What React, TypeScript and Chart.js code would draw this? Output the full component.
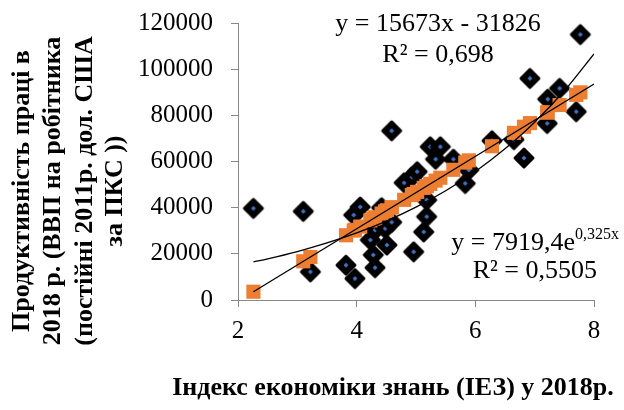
import React, { useEffect, useRef } from "react";
import { Chart, registerables } from "chart.js";

Chart.register(...registerables);

// Knowledge Economy Index (KEI) 2018 — x values of countries
const knowledgeIndex = [
  2.26, 3.10, 3.22, 3.82, 3.95, 3.97, 4.06, 4.23, 4.28, 4.31, 4.31, 4.42, 4.48,
  4.51, 4.59, 4.59, 4.80, 4.93, 4.96, 5.02, 5.13, 5.18, 5.18, 5.24, 5.33, 5.41,
  5.63, 5.83, 5.89, 6.28, 6.65, 6.82, 6.92, 7.21, 7.22, 7.42, 7.70, 7.77,
];
// Labour productivity 2018 (observed)
const productivity = [
  39700, 38400, 12200, 15100, 36800, 9300, 40300, 26000, 19500, 14000, 30300, 40000, 31000,
  23800, 33700, 73300, 50800, 53300, 20900, 55600, 29500, 36100, 43300, 66400, 61000, 66400,
  61000, 50500, 56300, 69000, 69500, 61500, 96000, 76500, 87000, 91700, 81600, 115000,
];
// Predicted productivity (orange squares)
const fittedProductivity = [
  3595, 16760, 18641, 28045, 30082, 30396, 31806, 34471, 35254, 35725, 35725, 37449, 38389,
  38859, 40113, 40113, 43404, 45442, 45912, 46852, 48576, 49360, 49360, 50301, 51711, 52965,
  56413, 59548, 60488, 66600, 72399, 75064, 76631, 81176, 81333, 84468, 88856, 89953,
];
// Linear trend line (endpoints)
const linearTrendX = [2.26, 8];
const linearTrendY = [3595, 93558];
// Exponential trend line samples
const expTrendX = [2.26, 2.5, 3, 3.5, 4, 4.5, 5, 5.5, 6, 6.5, 7, 7.5, 8];
const expTrendY = [16508, 17847, 20996, 24700, 29059, 34185, 40218, 47313, 55663, 65487, 77042, 90634, 106625];

const xTicks = [2, 4, 6, 8];
const yTicks = [0, 20000, 40000, 60000, 80000, 100000, 120000];

const yTitleLines = [
  "Продуктивність праці в",
  "2018 р. (ВВП на робітника",
  "(постійні 2011р. дол. США",
  "за ПКС ))",
];
const xTitle = "Індекс економіки знань (ІЕЗ) у 2018р.";
const linEq = "y = 15673x - 31826";
const linR2 = "R² = 0,698";
const expEqMain = "y = 7919,4e";
const expEqSup = "0,325x";
const expR2 = "R² = 0,5505";

const SERIF = "'Times New Roman', 'Liberation Serif', serif";

function makeDiamond(): HTMLCanvasElement {
  const c = document.createElement("canvas");
  c.width = 24;
  c.height = 24;
  const g = c.getContext("2d")!;
  g.beginPath();
  g.moveTo(12, 3);
  g.lineTo(21, 12);
  g.lineTo(12, 21);
  g.lineTo(3, 12);
  g.closePath();
  g.fillStyle = "#000";
  g.fill();
  g.lineJoin = "round";
  g.lineWidth = 3;
  g.strokeStyle = "#000";
  g.stroke();
  g.fillStyle = "#4472C4";
  g.beginPath();
  g.moveTo(12, 9.5);
  g.lineTo(14.5, 12);
  g.lineTo(12, 14.5);
  g.lineTo(9.5, 12);
  g.closePath();
  g.fill();
  return c;
}

const textPlugin = {
  id: "texts",
  afterDraw(chart: any) {
    const ctx = chart.ctx as CanvasRenderingContext2D;
    ctx.save();
    ctx.fillStyle = "#000";
    // Y title
    ctx.font = `bold 26px ${SERIF}`;
    ctx.textAlign = "center";
    ctx.textBaseline = "alphabetic";
    const baseX = [28.5, 60, 91.5, 122];
    yTitleLines.forEach((t, i) => {
      ctx.save();
      ctx.translate(baseX[i], 191);
      ctx.rotate(-Math.PI / 2);
      ctx.fillText(t, 0, 0);
      ctx.restore();
    });
    // X title
    ctx.fillText(xTitle, 393, 395);
    // Linear equation
    ctx.font = `26px ${SERIF}`;
    ctx.fillText(linEq, 438, 31);
    ctx.fillText(linR2, 438, 62);
    // Exponential equation
    ctx.textAlign = "left";
    ctx.font = `16px ${SERIF}`;
    const supW = ctx.measureText(expEqSup).width;
    ctx.font = `26px ${SERIF}`;
    const mainW = ctx.measureText(expEqMain).width;
    const right = 619;
    ctx.fillText(expEqMain, right - supW - mainW, 250);
    ctx.font = `16px ${SERIF}`;
    ctx.fillText(expEqSup, right - supW, 239);
    ctx.font = `26px ${SERIF}`;
    ctx.textAlign = "right";
    ctx.fillText(expR2, 597, 278);
    ctx.restore();
  },
};

export default function App() {
  const ref = useRef<HTMLCanvasElement>(null);
  useEffect(() => {
    if (!ref.current) return;
    const diamond = makeDiamond();
    const observed = knowledgeIndex.map((x, i) => ({ x, y: productivity[i] }));
    const fitted = knowledgeIndex.map((x, i) => ({ x, y: fittedProductivity[i] }));
    const lin = linearTrendX.map((x, i) => ({ x, y: linearTrendY[i] }));
    const exp = expTrendX.map((x, i) => ({ x, y: expTrendY[i] }));
    const chart = new Chart(ref.current, {
      type: "scatter",
      data: {
        datasets: [
          {
            data: lin,
            showLine: true,
            borderColor: "#000",
            borderWidth: 1.3,
            pointRadius: 0,
            order: 0,
          } as any,
          {
            data: exp,
            showLine: true,
            borderColor: "#000",
            borderWidth: 1.3,
            pointRadius: 0,
            cubicInterpolationMode: "monotone",
            order: 0,
          } as any,
          {
            data: fitted,
            pointStyle: "rect",
            pointRadius: 10,
            backgroundColor: "#ED7D31",
            borderWidth: 0,
            order: 1,
          } as any,
          {
            data: observed,
            pointStyle: diamond,
            pointRadius: 10,
            order: 2,
          } as any,
        ],
      },
      options: {
        animation: false,
        responsive: false,
        events: [],
        layout: { autoPadding: false, padding: { left: 0, top: 23, right: 30, bottom: 0 } },
        plugins: { legend: { display: false }, tooltip: { enabled: false } },
        scales: {
          x: {
            type: "linear",
            min: 2,
            max: 8,
            afterFit: (s: any) => {
              s.height = 110;
              s.paddingLeft = 0;
              s.paddingRight = 0;
            },
            afterBuildTicks: (s: any) => {
              s.ticks = xTicks.map((v) => ({ value: v }));
            },
            grid: { drawOnChartArea: false, drawTicks: true, tickLength: 7, color: "#888" },
            border: { display: true, color: "#888", width: 1 },
            ticks: {
              color: "#000",
              font: { family: SERIF, size: 25 },
              padding: 9,
              maxRotation: 0,
            },
          },
          y: {
            type: "linear",
            min: 0,
            max: 120000,
            afterFit: (s: any) => {
              s.width = 238;
              s.paddingTop = 0;
              s.paddingBottom = 0;
            },
            afterBuildTicks: (s: any) => {
              s.ticks = yTicks.map((v) => ({ value: v }));
            },
            grid: { drawOnChartArea: false, drawTicks: true, tickLength: 7, color: "#888" },
            border: { display: true, color: "#888", width: 1 },
            ticks: {
              color: "#000",
              font: { family: SERIF, size: 25 },
              padding: 18,
              callback: (v: any) => String(v),
            },
          },
        },
      },
      plugins: [textPlugin],
    });
    return () => chart.destroy();
  }, []);
  return (
    <div style={{ position: "fixed", left: 0, top: 0, width: 624, height: 410, background: "#fff" }}>
      <canvas ref={ref} width={624} height={410} style={{ width: 624, height: 410, display: "block" }} />
    </div>
  );
}
